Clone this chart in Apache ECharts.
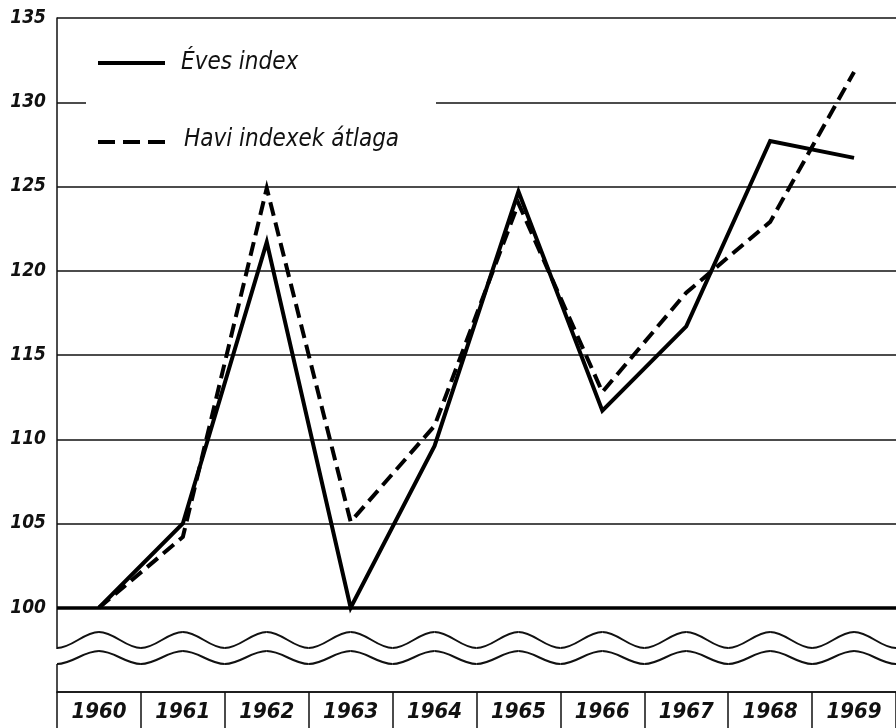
<!DOCTYPE html>
<html>
<head>
<meta charset="utf-8">
<script src="https://cdn.jsdelivr.net/npm/echarts@6/dist/echarts.min.js"></script>
<style>
html,body{margin:0;padding:0;background:#fff;}
#chart{width:896px;height:728px;}
</style>
</head>
<body>
<div id="chart"></div>
<script>
const years = ['1960','1961','1962','1963','1964','1965','1966','1967','1968','1969'];
const evesIndex = [100, 105, 121.7, 100, 109.6, 124.7, 111.7, 116.7, 127.7, 126.7];
const haviAtlag = [100, 104.2, 124.9, 105.1, 110.8, 124.0, 112.8, 118.7, 122.9, 131.8];
const seriesNames = ['Éves index', 'Havi indexek átlaga'];
const yMin = 95, yMax = 135, yStep = 5;
const baseLine = 100;

const FONT = '"DejaVu Sans Condensed", "DejaVu Sans", sans-serif';
const chart = echarts.init(document.getElementById('chart'), null, {renderer: 'canvas'});

chart.setOption({
  backgroundColor: '#fff',
  animation: false,
  grid: {left: 57, right: -4, top: 18, bottom: 36, containLabel: false},
  xAxis: {
    type: 'category',
    data: years,
    boundaryGap: true,
    axisLine: {lineStyle: {color: '#111', width: 1.5}},
    axisTick: {show: true, interval: 0, length: 40, lineStyle: {color: '#111', width: 1.5}},
    axisLabel: {margin: 9, fontFamily: FONT, fontStyle: 'italic', fontWeight: 'bold', fontSize: 22, color: '#111'},
    splitLine: {show: false}
  },
  yAxis: {
    type: 'value',
    min: yMin, max: yMax, interval: yStep,
    axisLine: {show: true, lineStyle: {color: '#111', width: 1.5}},
    axisTick: {show: false},
    axisLabel: {
      margin: 11, fontFamily: FONT, fontStyle: 'italic', fontWeight: 'bold', fontSize: 19, color: '#111',
      formatter: v => (v < baseLine ? '' : String(v))
    },
    splitLine: {show: true, lineStyle: {color: '#111', width: 1.5}}
  },
  series: [
    {
      name: seriesNames[0], type: 'line', data: evesIndex,
      symbol: 'none', z: 5,
      lineStyle: {color: '#000', width: 4, type: 'solid', join: 'miter'},
      markLine: {
        silent: true, symbol: 'none', label: {show: false},
        lineStyle: {color: '#000', width: 3.5, type: 'solid'},
        data: [{yAxis: baseLine}]
      }
    },
    {
      name: seriesNames[1], type: 'line', data: haviAtlag,
      symbol: 'none', z: 6,
      lineStyle: {color: '#000', width: 4, type: [14, 7], cap: 'butt', join: 'miter'}
    }
  ]
});

function waveCurves(x0, band, xEnd, yc, amp) {
  const h = band / 2, k = 0.364 * h;
  const out = [];
  let x = x0, up = true, y = yc + amp;
  while (x < xEnd) {
    const nx = x + h;
    const ny = up ? yc - amp : yc + amp;
    out.push({
      type: 'bezierCurve', z: 3,
      shape: {x1: x, y1: y, cpx1: x + k, cpy1: y, cpx2: nx - k, cpy2: ny, x2: nx, y2: ny},
      style: {fill: null, stroke: '#111', lineWidth: 2}
    });
    x = nx; y = ny; up = !up;
  }
  return out;
}

const c0 = chart.convertToPixel({xAxisIndex: 0}, 0);
const c1 = chart.convertToPixel({xAxisIndex: 0}, 1);
const band = c1 - c0;
const xStart = c0 - band / 2;
const y130 = chart.convertToPixel({yAxisIndex: 0}, 130);

const legendEls = [
  {type: 'line', z: 4, shape: {x1: 98, y1: 63, x2: 165, y2: 63}, style: {stroke: '#000', lineWidth: 4}},
  {type: 'text', z: 4, x: 181, y: 63, style: {text: seriesNames[0], fontFamily: FONT, fontStyle: 'italic', fontSize: 24, fill: '#111', verticalAlign: 'middle'}},
  {type: 'line', z: 4, shape: {x1: 98, y1: 142, x2: 165, y2: 142}, style: {stroke: '#000', lineWidth: 4, lineDash: [17, 8]}},
  {type: 'text', z: 4, x: 184, y: 140, style: {text: seriesNames[1], fontFamily: FONT, fontStyle: 'italic', fontSize: 24, fill: '#111', verticalAlign: 'middle'}}
];

chart.setOption({
  graphic: [
    {type: 'rect', z: 3, shape: {x: 86, y: y130 - 4, width: 350, height: 8}, style: {fill: '#fff'}},
    {type: 'rect', z: 3, shape: {x: xStart - 4, y: 649, width: 8, height: 15}, style: {fill: '#fff'}}
  ].concat(waveCurves(xStart, band, 900, 640, 8))
   .concat(waveCurves(xStart, band, 900, 657.5, 6.5))
   .concat(legendEls)
});
</script>
</body>
</html>
